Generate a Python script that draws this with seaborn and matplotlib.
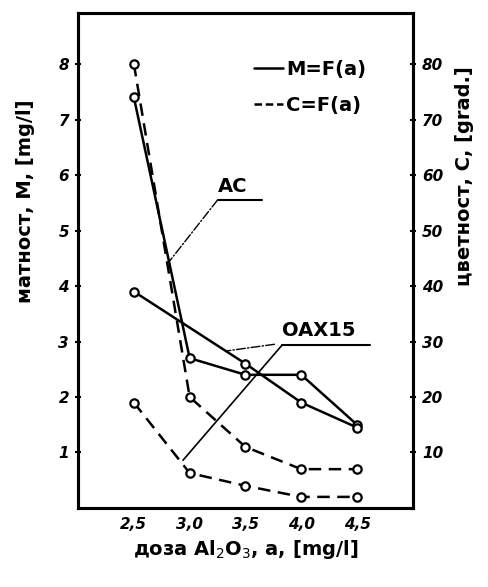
import matplotlib
matplotlib.use('Agg')
import matplotlib.pyplot as plt
import seaborn as sns
from matplotlib.lines import Line2D

# Data
dose = [2.5, 3.0, 3.5, 4.0, 4.5]
dose_oax_m = [2.5, 3.5, 4.0, 4.5]
m_ac = [7.4, 2.7, 2.4, 2.4, 1.5]
m_oax = [3.9, 2.6, 1.9, 1.45]
c_ac = [80, 20, 11, 7, 7]
c_oax = [19, 6.3, 4, 2, 2]
x_ticks = [2.5, 3.0, 3.5, 4.0, 4.5]
x_tick_labels = ['2,5', '3,0', '3,5', '4,0', '4,5']
m_ticks = [1, 2, 3, 4, 5, 6, 7, 8]
c_ticks = [10, 20, 30, 40, 50, 60, 70, 80]

sns.set_style('white')
plt.rcParams['font.family'] = ['DejaVu Sans']
plt.rcParams['text.color'] = 'black'
plt.rcParams['axes.labelcolor'] = 'black'
plt.rcParams['xtick.color'] = 'black'
plt.rcParams['ytick.color'] = 'black'

fig = plt.figure(figsize=(4.88, 5.87), dpi=100)
ax = fig.add_axes([0.160, 0.1346, 0.686, 0.8433])
ax2 = ax.twinx()

line_kw = dict(color='black', linewidth=1.8, marker='o', markersize=6,
               markerfacecolor='white', markeredgecolor='black',
               markeredgewidth=1.6)

sns.lineplot(x=dose, y=m_ac, ax=ax, linestyle='-', **line_kw)
sns.lineplot(x=dose_oax_m, y=m_oax, ax=ax, linestyle='-', **line_kw)
sns.lineplot(x=dose, y=c_ac, ax=ax2, linestyle=(0, (5, 3)), **line_kw)
sns.lineplot(x=dose, y=c_oax, ax=ax2, linestyle=(0, (5, 3)), **line_kw)

ax.set_xlim(2.0, 5.0)
ax.set_ylim(0, 8.92)
ax2.set_ylim(0, 89.2)

tick_font = dict(fontsize=11, fontweight='bold', fontstyle='italic', color='black')
ax.set_xticks(x_ticks)
ax.set_xticklabels(x_tick_labels, **tick_font)
ax.set_yticks(m_ticks)
ax.set_yticklabels([str(t) for t in m_ticks], **tick_font)
ax2.set_yticks(c_ticks)
ax2.set_yticklabels([str(t) for t in c_ticks], **tick_font)

for a in (ax, ax2):
    for s in a.spines.values():
        s.set_linewidth(2.2)
        s.set_color('black')
    a.tick_params(direction='inout', length=5, width=1.5, colors='black', pad=4)

ax.set_xlabel('доза Al$_2$O$_3$, a, [mg/l]', fontsize=14, fontweight='bold',
              color='black')
ax.set_ylabel('матност, M, [mg/l]', fontsize=14, fontweight='bold',
              color='black')
ax.yaxis.set_label_coords(-0.13, 0.62)
ax2.set_ylabel('цветност, C, [grad.]', fontsize=14, fontweight='bold',
               rotation=90, color='black')
ax2.yaxis.set_label_coords(1.125, 0.67)

# legend
handles = [Line2D([], [], color='black', linewidth=1.8, linestyle='-'),
           Line2D([], [], color='black', linewidth=1.8, linestyle=(0, (3, 1.5)))]
leg = ax.legend(handles, ['M=F(a)', 'C=F(a)'], loc='upper right',
                bbox_to_anchor=(0.77, 0.915), bbox_transform=fig.transFigure,
                frameon=False, handlelength=1.5, handletextpad=0.15,
                labelspacing=0.9, borderpad=0, labelcolor='black',
                prop=dict(size=14, weight='bold'))

# curve labels with leader lines
ax.text(3.25, 5.62, 'AC', fontsize=14, fontweight='bold', va='bottom',
        color='black')
ax.plot([3.25, 3.65], [5.55, 5.55], color='black', linewidth=1.5)
ax.annotate('', xy=(2.82, 4.45), xytext=(3.25, 5.55),
            arrowprops=dict(arrowstyle='-', linestyle='-.', linewidth=1.0,
                            color='black', shrinkA=0, shrinkB=0))

ax.text(3.83, 3.02, 'OAX15', fontsize=14, fontweight='bold', va='bottom',
        color='black')
ax.plot([3.83, 4.62], [2.94, 2.94], color='black', linewidth=1.5)
ax.annotate('', xy=(2.94, 0.86), xytext=(3.83, 2.94),
            arrowprops=dict(arrowstyle='-', linewidth=1.2, color='black',
                            shrinkA=0, shrinkB=0))
ax.annotate('', xy=(3.33, 2.83), xytext=(3.76, 2.95),
            arrowprops=dict(arrowstyle='-', linestyle='-.', linewidth=1.0,
                            color='black', shrinkA=0, shrinkB=0))

fig.savefig('out.png', dpi=100)
